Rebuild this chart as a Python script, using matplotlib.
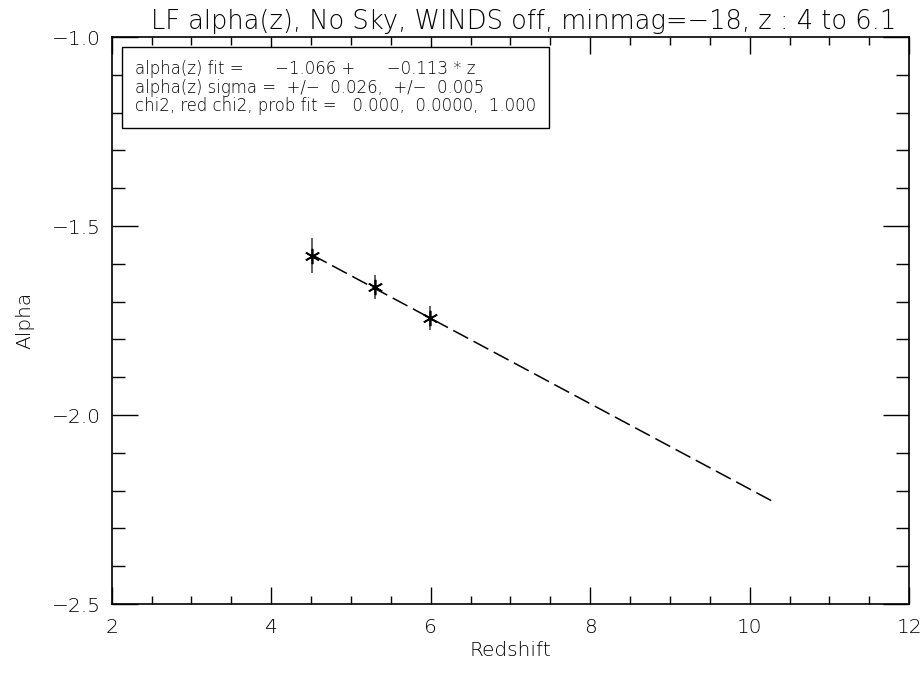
import numpy as np
import matplotlib.pyplot as plt
from matplotlib.ticker import MultipleLocator

# data
z = [4.51, 5.30, 5.99]
alpha = [-1.579, -1.661, -1.744]
alpha_err = [0.046, 0.032, 0.032]

# fit line end points (alpha = -1.066 - 0.113 z)
fit_z = [4.51, 10.32]
fit_alpha = [-1.576, -2.232]

title = 'LF alpha(z), No Sky, WINDS off, minmag=\u221218, z : 4 to 6.1'
box_lines = ['alpha(z) fit =      \u22121.066 +      \u22120.113 * z',
             'alpha(z) sigma =  +/\u2212  0.026,  +/\u2212  0.005',
             'chi2, red chi2, prob fit =   0.000,  0.0000,  1.000']

plt.rcParams['font.family'] = 'DejaVu Sans'
plt.rcParams['font.weight'] = 'light'
plt.rcParams['axes.titleweight'] = 'light'
plt.rcParams['axes.labelweight'] = 'light'

fig = plt.figure(figsize=(9.23, 6.73), dpi=100)
ax = fig.add_axes([0.121, 0.1025, 0.864, 0.8425])

ax.errorbar(z, alpha, yerr=alpha_err, fmt='none', ecolor='#555555', elinewidth=1.3)
ax.plot(z, alpha, ls='none', marker=(6, 2, 0), ms=11, mec='black', mew=1.2)
ax.plot(fit_z, fit_alpha, color='black', lw=1.1, dashes=(11, 4))

ax.set_xlim(2, 12)
ax.set_ylim(-2.5, -1.0)
ax.xaxis.set_major_locator(MultipleLocator(2))
ax.xaxis.set_minor_locator(MultipleLocator(0.5))
ax.yaxis.set_major_locator(MultipleLocator(0.5))
ax.yaxis.set_minor_locator(MultipleLocator(0.1))
ax.yaxis.set_major_formatter(plt.FuncFormatter(lambda v, p: f'{v:.1f}'.replace('-', '\u2212')))

ax.tick_params(which='both', direction='in', top=True, right=True, width=1,
               labelsize=14.5, color='black', labelcolor='black')
ax.tick_params(axis='x', which='major', length=12, pad=10)
ax.tick_params(axis='x', which='minor', length=6)
ax.tick_params(axis='y', which='major', length=19, pad=8)
ax.tick_params(axis='y', which='minor', length=9.5)
for s in ax.spines.values():
    s.set_linewidth(1.2)

ax.set_xlabel('Redshift', fontsize=14.5, labelpad=3)
ax.set_ylabel('Alpha', fontsize=14.5, labelpad=12)
ax.set_title(title, fontsize=18.5, pad=6, x=0.517)

ax.text(0.029, 0.959, '\n'.join(box_lines), transform=ax.transAxes, fontsize=11.9,
        va='top', ha='left', linespacing=1.02,
        bbox=dict(boxstyle='square,pad=0.8', fc='white', ec='black', lw=1))

fig.savefig('out.png', dpi=100)
